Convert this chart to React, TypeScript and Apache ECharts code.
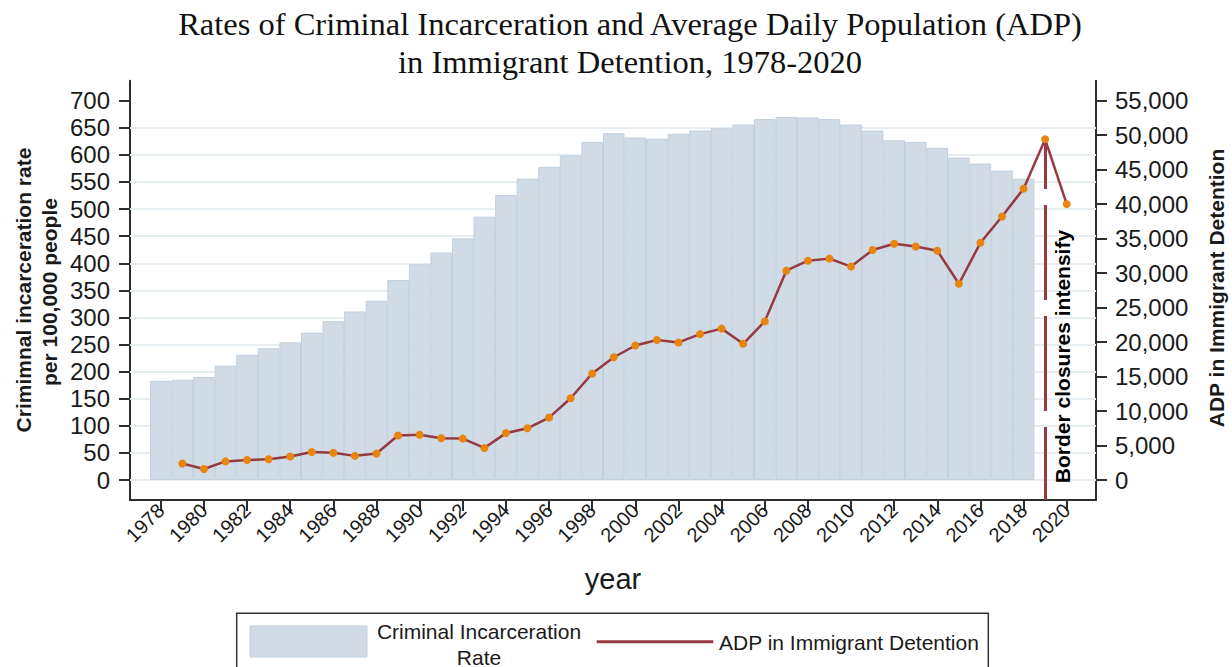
import React, { useEffect, useRef } from "react";
import * as echarts from "echarts";

// ---- Data ----
const rateYears = [
  1978, 1979, 1980, 1981, 1982, 1983, 1984, 1985, 1986, 1987, 1988, 1989, 1990, 1991,
  1992, 1993, 1994, 1995, 1996, 1997, 1998, 1999, 2000, 2001, 2002, 2003, 2004, 2005,
  2006, 2007, 2008, 2009, 2010, 2011, 2012, 2013, 2014, 2015, 2016, 2017, 2018,
];
const incarcerationRate = [
  183, 185, 190, 211, 231, 243, 254, 272, 293, 311, 331, 369, 398, 420, 446, 486, 526,
  556, 578, 599, 624, 640, 632, 630, 639, 645, 649, 656, 666, 670, 669, 666, 656, 645,
  627, 624, 613, 595, 584, 571, 556,
];
const adpYears = [
  1979, 1980, 1981, 1982, 1983, 1984, 1985, 1986, 1987, 1988, 1989, 1990, 1991, 1992,
  1993, 1994, 1995, 1996, 1997, 1998, 1999, 2000, 2001, 2002, 2003, 2004, 2005, 2006,
  2007, 2008, 2009, 2010, 2011, 2012, 2013, 2014, 2015, 2016, 2017, 2018, 2019, 2020,
];
const adpValues = [
  2400, 1600, 2700, 2900, 3000, 3400, 4050, 3950, 3500, 3850, 6450, 6550, 6050, 6000,
  4650, 6800, 7500, 9050, 11850, 15450, 17800, 19500, 20300, 19950, 21150, 21950, 19750,
  23000, 30350, 31800, 32100, 30950, 33350, 34250, 33850, 33250, 28450, 34400, 38200,
  42250, 49400, 40000,
];
const yearTicks = [
  1978, 1980, 1982, 1984, 1986, 1988, 1990, 1992, 1994, 1996, 1998, 2000, 2002, 2004,
  2006, 2008, 2010, 2012, 2014, 2016, 2018, 2020,
];
const rateTicks = [0, 50, 100, 150, 200, 250, 300, 350, 400, 450, 500, 550, 600, 650, 700];
const rateGridLines = [0, 50, 100, 150, 200, 250, 300, 350, 400, 450, 500, 550, 600, 650];
const adpTicks = [0, 5000, 10000, 15000, 20000, 25000, 30000, 35000, 40000, 45000, 50000, 55000];
const annotationYear = 2019;
const annotationText = "Border closures intensify";

const SANS = "'Liberation Sans', Arial, sans-serif";
const SERIF = "'Liberation Serif', 'Times New Roman', serif";
const TXT = "#1a1a1a";
const AXIS = "#2e2e2e";

export default function App() {
  const ref = useRef<HTMLDivElement>(null);

  useEffect(() => {
    document.body.style.margin = "0";
    if (!ref.current) return;
    const chart = echarts.init(ref.current, undefined, { renderer: "svg" });

    const barData = rateYears.map((y, i) => [y, incarcerationRate[i]]);
    const lineData = adpYears.map((y, i) => [y, adpValues[i]]);
    const annIdx = adpYears.indexOf(annotationYear);

    const option: any = {
      animation: false,
      grid: {
        left: 130,
        right: 136,
        top: 80.7,
        bottom: 167,
        containLabel: false,
        outerBoundsMode: "none",
      },
      xAxis: {
        type: "value",
        min: 1976.572,
        max: 2021.357,
        name: "year",
        nameLocation: "middle",
        nameGap: 64,
        nameTextStyle: { fontFamily: SANS, fontSize: 29, color: TXT },
        axisLine: { show: true, onZero: false, lineStyle: { color: AXIS, width: 2 } },
        axisTick: {
          show: true,
          customValues: yearTicks,
          length: 11,
          lineStyle: { color: AXIS, width: 2 },
        },
        axisLabel: {
          customValues: yearTicks,
          rotate: 45,
          margin: 7,
          fontFamily: SANS,
          fontSize: 20,
          color: TXT,
          formatter: (v: number) => String(Math.round(v)),
        },
        splitLine: { show: false },
      },
      yAxis: [
        {
          type: "value",
          position: "left",
          min: -36.91,
          max: 736.91,
          axisLine: { show: true, onZero: false, lineStyle: { color: AXIS, width: 2 } },
          axisTick: {
            show: true,
            customValues: rateTicks,
            length: 11,
            lineStyle: { color: AXIS, width: 2 },
          },
          axisLabel: {
            customValues: rateTicks,
            margin: 20,
            fontFamily: SANS,
            fontSize: 24,
            color: TXT,
          },
          splitLine: { show: false },
        },
        {
          type: "value",
          position: "right",
          min: -2900,
          max: 57900,
          axisLine: { show: true, onZero: false, lineStyle: { color: AXIS, width: 2 } },
          axisTick: {
            show: true,
            customValues: adpTicks,
            length: 11,
            lineStyle: { color: AXIS, width: 2 },
          },
          axisLabel: {
            customValues: adpTicks,
            margin: 19,
            fontFamily: SANS,
            fontSize: 24,
            color: TXT,
            formatter: (v: number) => Math.round(v).toLocaleString("en-US"),
          },
          splitLine: { show: false },
        },
      ],
      series: [
        {
          name: "Criminal Incarceration Rate",
          type: "bar",
          xAxisIndex: 0,
          yAxisIndex: 0,
          data: barData,
          barWidth: 21.57,
          z: 2,
          itemStyle: { color: "#d0dbe5", borderColor: "#c2cfdc", borderWidth: 1 },
          markLine: {
            silent: true,
            z: 1,
            symbol: "none",
            label: { show: false },
            lineStyle: { color: "#e6eef2", width: 2, type: "solid" },
            data: rateGridLines.map((v) => ({ yAxis: v })),
          },
        },
        {
          name: "ADP in Immigrant Detention",
          type: "line",
          xAxisIndex: 0,
          yAxisIndex: 1,
          data: lineData,
          z: 4,
          symbol: "circle",
          symbolSize: 8,
          showAllSymbol: true,
          lineStyle: { color: "#943a40", width: 2.5 },
          itemStyle: { color: "#e8850f" },
          markLine: {
            silent: true,
            z: 3,
            symbol: "none",
            label: { show: false },
            lineStyle: { color: "#943a40", width: 3, type: [95, 16], dashOffset: 22 },
            data: [
              [
                { coord: [annotationYear, -2900] },
                { coord: [annotationYear, adpValues[annIdx]] },
              ],
            ],
          },
        },
      ],
      graphic: [
        {
          type: "text",
          x: 630,
          y: 24,
          style: {
            text: "Rates of Criminal Incarceration and Average Daily Population (ADP)",
            fontFamily: SERIF,
            fontSize: 32.5,
            fill: "#111",
            align: "center",
            verticalAlign: "middle",
          },
        },
        {
          type: "text",
          x: 630,
          y: 62,
          style: {
            text: "in Immigrant Detention, 1978-2020",
            fontFamily: SERIF,
            fontSize: 32.5,
            fill: "#111",
            align: "center",
            verticalAlign: "middle",
          },
        },
        {
          type: "text",
          x: 23.5,
          y: 290,
          rotation: Math.PI / 2,
          style: {
            text: "Crimimnal incarceration rate",
            fontFamily: SANS,
            fontWeight: "bold",
            fontSize: 21,
            fill: TXT,
            align: "center",
            verticalAlign: "middle",
          },
        },
        {
          type: "text",
          x: 49.5,
          y: 292,
          rotation: Math.PI / 2,
          style: {
            text: "per 100,000 people",
            fontFamily: SANS,
            fontWeight: "bold",
            fontSize: 21,
            fill: TXT,
            align: "center",
            verticalAlign: "middle",
          },
        },
        {
          type: "text",
          x: 1216.5,
          y: 288,
          rotation: Math.PI / 2,
          style: {
            text: "ADP in Immigrant Detention",
            fontFamily: SANS,
            fontWeight: "bold",
            fontSize: 21,
            fill: TXT,
            align: "center",
            verticalAlign: "middle",
          },
        },
        {
          type: "text",
          x: 1062,
          y: 356.5,
          rotation: Math.PI / 2,
          z: 10,
          style: {
            text: annotationText,
            fontFamily: SANS,
            fontWeight: "bold",
            fontSize: 21,
            fill: "#000",
            align: "center",
            verticalAlign: "middle",
          },
        },
        // legend
        {
          type: "rect",
          shape: { x: 236.7, y: 613.3, width: 751.6, height: 70 },
          style: { fill: "#fff", stroke: "#333", lineWidth: 1.5 },
        },
        {
          type: "rect",
          shape: { x: 250, y: 626, width: 117, height: 31 },
          style: { fill: "#d0dbe5", stroke: "#c2cfdc", lineWidth: 1 },
        },
        {
          type: "text",
          x: 479,
          y: 631.5,
          style: {
            text: "Criminal Incarceration",
            fontFamily: SANS,
            fontSize: 21,
            fill: TXT,
            align: "center",
            verticalAlign: "middle",
          },
        },
        {
          type: "text",
          x: 479,
          y: 657,
          style: {
            text: "Rate",
            fontFamily: SANS,
            fontSize: 21,
            fill: TXT,
            align: "center",
            verticalAlign: "middle",
          },
        },
        {
          type: "line",
          shape: { x1: 596.7, y1: 641.7, x2: 713.3, y2: 641.7 },
          style: { stroke: "#943a40", lineWidth: 3 },
        },
        {
          type: "text",
          x: 719,
          y: 642,
          style: {
            text: "ADP in Immigrant Detention",
            fontFamily: SANS,
            fontSize: 21,
            fill: TXT,
            align: "left",
            verticalAlign: "middle",
          },
        },
      ],
    };

    chart.setOption(option);
    return () => {
      chart.dispose();
    };
  }, []);

  return <div ref={ref} style={{ width: 1232, height: 667, overflow: "hidden" }} />;
}
